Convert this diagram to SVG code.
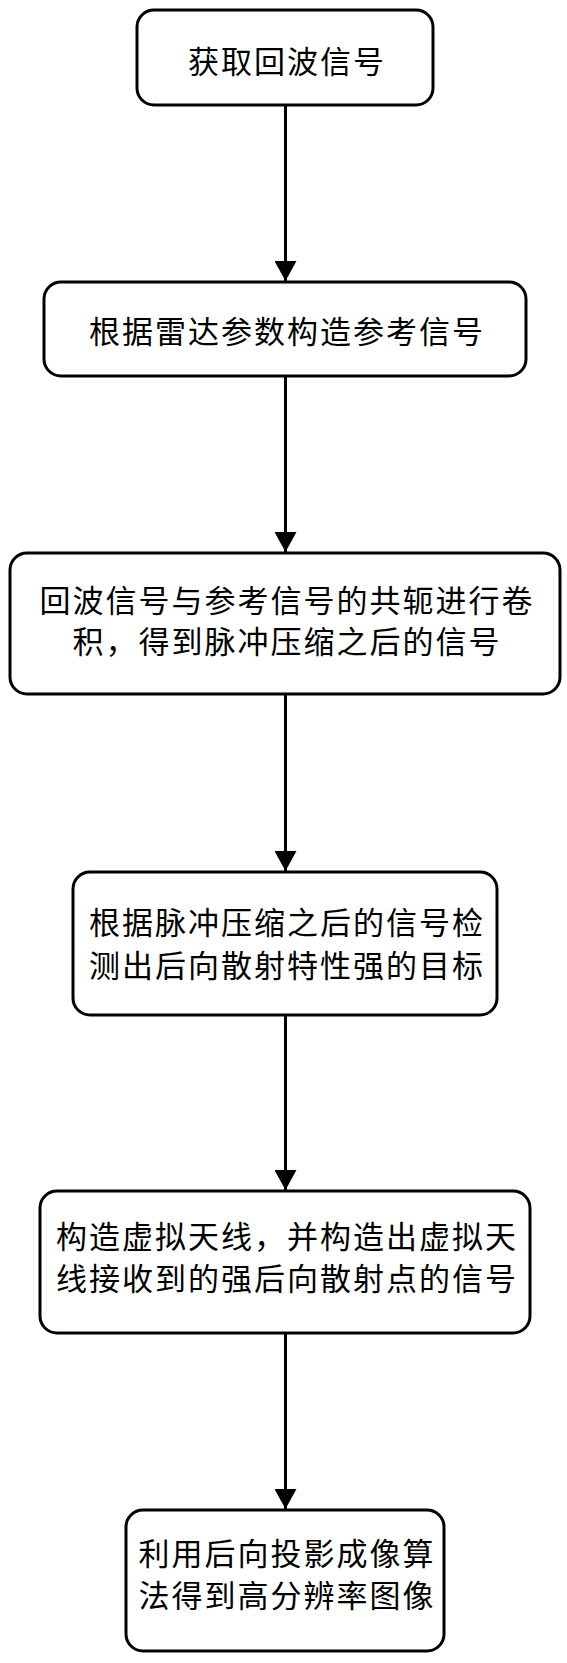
<svg xmlns="http://www.w3.org/2000/svg" width="567" height="1663" viewBox="0 0 567 1663">
<style>
.box{fill:#fff;stroke:#000;stroke-width:3}
.lbl{font-family:"Noto Sans CJK SC","Noto Sans CJK JP",sans-serif;font-size:31px;letter-spacing:2px;fill:#000;text-anchor:middle}
.edge{stroke:#000;stroke-width:3;fill:none}
</style>
<defs>
<marker id="arr" markerUnits="userSpaceOnUse" markerWidth="22" markerHeight="22" refX="20" refY="11" orient="auto">
<path d="M0,0 L20,11 L0,22 z" fill="#000"/>
</marker>
</defs>
<rect width="567" height="1663" fill="#fff"/>
<g id="connectors">
<line class="edge" x1="285.5" y1="105" x2="285.5" y2="281" marker-end="url(#arr)"/>
<line class="edge" x1="285.5" y1="376" x2="285.5" y2="552" marker-end="url(#arr)"/>
<line class="edge" x1="285.5" y1="694" x2="285.5" y2="871" marker-end="url(#arr)"/>
<line class="edge" x1="285.5" y1="1015" x2="285.5" y2="1190" marker-end="url(#arr)"/>
<line class="edge" x1="285.5" y1="1333" x2="285.5" y2="1509" marker-end="url(#arr)"/>
</g>
<g id="n1">
<rect class="box" x="137" y="10" width="296" height="95" rx="17"/>
<text class="lbl" x="287" y="73">获取回波信号</text>
</g>
<g id="n2">
<rect class="box" x="44" y="282" width="482" height="94" rx="17"/>
<text class="lbl" x="287" y="343">根据雷达参数构造参考信号</text>
</g>
<g id="n3">
<rect class="box" x="10" y="553" width="550" height="141" rx="17"/>
<text class="lbl" x="287" y="612">回波信号与参考信号的共轭进行卷</text>
<text class="lbl" x="287" y="653">积，得到脉冲压缩之后的信号</text>
</g>
<g id="n4">
<rect class="box" x="73" y="872" width="424" height="143" rx="17"/>
<text class="lbl" x="287" y="934">根据脉冲压缩之后的信号检</text>
<text class="lbl" x="287" y="977">测出后向散射特性强的目标</text>
</g>
<g id="n5">
<rect class="box" x="40" y="1191" width="490" height="142" rx="17"/>
<text class="lbl" x="287" y="1248">构造虚拟天线，并构造出虚拟天</text>
<text class="lbl" x="287" y="1290">线接收到的强后向散射点的信号</text>
</g>
<g id="n6">
<rect class="box" x="126" y="1510" width="318" height="141" rx="17"/>
<text class="lbl" x="287" y="1565">利用后向投影成像算</text>
<text class="lbl" x="287" y="1607">法得到高分辨率图像</text>
</g>
</svg>
